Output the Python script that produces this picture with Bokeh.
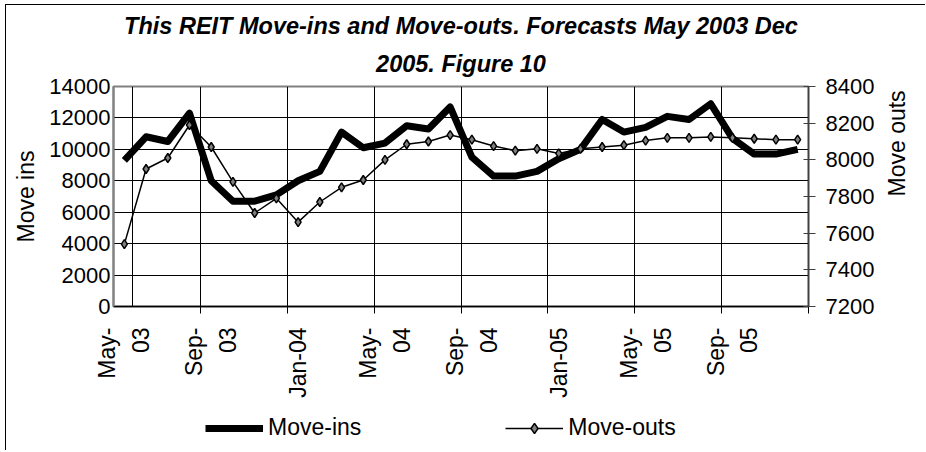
import math
from bokeh.plotting import figure
from bokeh.layouts import column
from bokeh.models import (Range1d, LinearAxis, FixedTicker, Legend, LegendItem, Title, ColumnDataSource)
from bokeh.embed import file_html
from bokeh.resources import INLINE

months = ["May-03", "Jun-03", "Jul-03", "Aug-03", "Sep-03", "Oct-03", "Nov-03", "Dec-03",
          "Jan-04", "Feb-04", "Mar-04", "Apr-04", "May-04", "Jun-04", "Jul-04", "Aug-04",
          "Sep-04", "Oct-04", "Nov-04", "Dec-04", "Jan-05", "Feb-05", "Mar-05", "Apr-05",
          "May-05", "Jun-05", "Jul-05", "Aug-05", "Sep-05", "Oct-05", "Nov-05", "Dec-05"]
move_ins = [9300, 10800, 10500, 12300, 8000, 6700, 6700, 7100, 8000, 8600, 11100, 10100,
            10400, 11500, 11300, 12700, 9500, 8300, 8300, 8600, 9400, 10000, 11900, 11100,
            11400, 12100, 11900, 12900, 10700, 9700, 9700, 10000]
move_outs = [7540, 7950, 8010, 8190, 8070, 7880, 7710, 7790, 7660, 7770, 7850, 7890,
             8000, 8085, 8100, 8135, 8110, 8075, 8050, 8060, 8035, 8060, 8070, 8080,
             8105, 8120, 8120, 8125, 8120, 8115, 8110, 8110]
tick_labels = ["May-\n03", "Sep-\n03", "Jan-04", "May-\n04", "Sep-\n04", "Jan-05", "May-\n05", "Sep-\n05"]
left_ticks = [0, 2000, 4000, 6000, 8000, 10000, 12000, 14000]
right_ticks = [7200, 7400, 7600, 7800, 8000, 8200, 8400]
title_lines = ["This REIT Move-ins and Move-outs. Forecasts May 2003 Dec", "2005. Figure 10"]
series_names = ["Move-ins", "Move-outs"]

FONT = "Liberation Sans"
W = 920
H_MAIN, H_LEG = 395, 51

idx = list(range(len(months)))
src = ColumnDataSource(dict(x=idx, month=months, ins=move_ins, outs=move_outs))

p = figure(width=W, height=H_MAIN, output_backend="svg", toolbar_location=None, title=None,
           x_range=Range1d(-0.5, len(months) - 0.5), y_range=Range1d(0, 14000),
           min_border_left=107, min_border_right=114, min_border_top=81, min_border_bottom=92)
p.extra_y_ranges = {"outs": Range1d(7200, 8400)}
p.background_fill_color = "white"
p.border_fill_color = "white"
p.outline_line_color = "#808080"
p.outline_line_width = 2
p.margin = (4, 0, 0, 5)
p.styles = {"border-left": "1px solid black", "border-top": "1px solid black"}

# title: two centred lines, the second one added first (closest to the frame)
p.add_layout(Title(text=title_lines[1], align="center", text_font=FONT, text_font_size="23.5px",
                   text_font_style="bold italic", text_color="black", standoff=20,
                   text_line_height=0.8), "above")
p.add_layout(Title(text=title_lines[0], align="center", text_font=FONT, text_font_size="23.5px",
                   text_font_style="bold italic", text_color="black", standoff=0,
                   text_line_height=0.8), "above")

# x axis
label_pos = [i * 4 for i in range(len(tick_labels))]
xa = p.xaxis[0]
xa.ticker = FixedTicker(ticks=label_pos, minor_ticks=[i * 4 + 3.5 for i in range(len(tick_labels))])
xa.major_label_overrides = {pos: lab for pos, lab in zip(label_pos, tick_labels)}
xa.major_label_orientation = math.pi / 2
xa.major_tick_out = 0
xa.major_tick_in = 0
xa.minor_tick_out = 7
xa.minor_tick_in = 0
xa.minor_tick_line_color = "black"
xa.major_label_standoff = 14
xa.major_label_text_font = FONT
xa.major_label_text_font_size = "23px"
xa.major_label_text_line_height = 1.3
xa.major_label_text_color = "black"
xa.axis_line_color = "black"
xa.axis_line_width = 1.5

# left axis
ya = p.yaxis[0]
ya.ticker = FixedTicker(ticks=left_ticks)
ya.major_tick_out = 0
ya.major_tick_in = 0
ya.minor_tick_line_color = None
ya.major_label_standoff = 3
ya.major_label_text_font = FONT
ya.major_label_text_font_size = "22px"
ya.major_label_text_color = "black"
ya.axis_line_color = "#808080"
ya.axis_line_width = 2
ya.axis_label = "Move ins"
ya.axis_label_standoff = 7
ya.axis_label_text_font = FONT
ya.axis_label_text_font_size = "23px"
ya.axis_label_text_font_style = "normal"
ya.axis_label_text_color = "black"

# right axis
ra = LinearAxis(y_range_name="outs", ticker=FixedTicker(ticks=right_ticks))
ra.major_tick_out = 7
ra.major_tick_in = 5
ra.minor_tick_line_color = None
ra.major_label_standoff = 10
ra.major_label_text_font = FONT
ra.major_label_text_font_size = "22px"
ra.major_label_text_color = "black"
ra.axis_line_color = "#404040"
ra.axis_line_width = 1.5
ra.major_tick_line_color = "#404040"
ra.axis_label = "Move outs"
ra.axis_label_standoff = 20
ra.axis_label_text_font = FONT
ra.axis_label_text_font_size = "23px"
ra.axis_label_text_font_style = "normal"
ra.axis_label_text_color = "black"
ra.axis_label_orientation = math.pi / 2
p.add_layout(ra, "right")

# grids
p.ygrid.ticker = FixedTicker(ticks=left_ticks)
p.ygrid.grid_line_color = "black"
p.ygrid.grid_line_width = 1
p.xgrid.ticker = FixedTicker(ticks=[0.37] + [i * 4 + 3.5 for i in range(len(tick_labels) - 1)])
p.xgrid.grid_line_color = "black"
p.xgrid.grid_line_width = 1

# series
INS_STYLE = dict(line_color="black", line_width=7, line_join="round")
OUTS_STYLE = dict(line_color="black", line_width=1.5)
MARK_STYLE = dict(marker="diamond", size=9, fill_color="#808080", line_color="black", line_width=1.5)
p.line("x", "ins", source=src, **INS_STYLE)
p.line("x", "outs", source=src, y_range_name="outs", **OUTS_STYLE)
p.scatter("x", "outs", source=src, y_range_name="outs", **MARK_STYLE)

# legend strip below the chart (its own small figure so the legend is not clipped);
# the series are drawn there too but fall outside its (0..1) ranges, so only the legend shows
q = figure(width=W, height=H_LEG, output_backend="svg", toolbar_location=None, title=None,
           x_axis_location=None, y_axis_location=None, min_border=0,
           x_range=Range1d(0, 1), y_range=Range1d(0, 1))
q.grid.visible = False
q.outline_line_color = None
q.background_fill_color = "white"
q.border_fill_color = "white"
q.margin = (0, 0, 0, 5)
q.styles = {"border-left": "1px solid black"}
l_ins = q.line("x", "ins", source=src, **INS_STYLE)
l_outs = q.line("x", "outs", source=src, **OUTS_STYLE)
l_mark = q.scatter("x", "outs", source=src, **MARK_STYLE)
legend = Legend(items=[LegendItem(label=series_names[0], renderers=[l_ins]),
                       LegendItem(label=series_names[1], renderers=[l_outs, l_mark])],
                location=(92, 9), orientation="horizontal",
                glyph_width=58, glyph_height=26, label_standoff=5, spacing=144,
                padding=0, margin=0, border_line_color=None, background_fill_alpha=0,
                label_text_font=FONT, label_text_font_size="23px", label_text_color="black",
                label_height=26)
q.add_layout(legend, "center")

layout = column(p, q, spacing=0)
open("out.html", "w").write(file_html(layout, INLINE))
